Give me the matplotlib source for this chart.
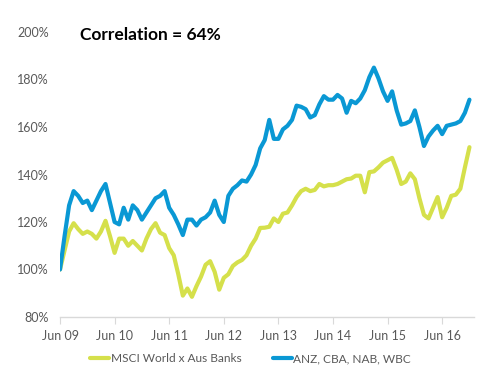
import matplotlib
matplotlib.use("Agg")
import matplotlib.pyplot as plt
import numpy as np

plt.rcParams['font.family'] = ['Lato', 'DejaVu Sans']

# Monthly data, Jun 09 .. Dec 16 (index = months since Jun 09)
msci = [100, 108, 116, 119.5, 117, 115, 116, 115, 113, 116,
        120.5, 114, 107, 113, 113, 110, 112, 110, 108, 113,
        117, 119.5, 115.5, 114.5, 109, 106, 98, 89, 92, 88.5,
        93, 97, 102, 103.5, 99, 91.5, 96.5, 98, 101.5, 103,
        104, 106, 110, 113, 117.5, 117.6, 118, 121.5, 120, 123.5,
        124, 127, 130.5, 133, 134, 133, 133.5, 136, 135, 135.5,
        135.5, 136, 137, 138, 138.3, 139.5, 139.5, 132.5, 141, 141.3,
        143, 145, 146, 147, 142, 136, 137, 140.5, 138, 130,
        123, 121.5, 126, 130.5, 122, 126, 131, 131.5, 134, 143,
        151.5]
banks = [100, 114, 127, 133, 131, 128, 129, 125, 129, 133,
         136, 128, 120, 119, 126, 121, 127, 125, 121, 124,
         127, 130, 131, 133, 126, 123, 119, 114.5, 121, 121,
         118.5, 121, 122, 124, 129, 123, 120, 131, 134, 135.5,
         137.5, 137, 140, 144, 151, 154.5, 163, 155, 155, 159,
         160.5, 163, 169, 168.5, 167.5, 164, 165, 169.5, 173, 171.5,
         171.5, 173.5, 172, 166, 171, 170, 172, 175.5, 181, 185,
         180.5, 175, 171, 175, 167, 161, 161.5, 162.5, 167, 160,
         152, 156, 158.5, 160.5, 157, 160.5, 161, 161.5, 162.5, 166,
         171.5]
tick_labels = ["Jun 09", "Jun 10", "Jun 11", "Jun 12", "Jun 13", "Jun 14", "Jun 15", "Jun 16"]
series_names = ["MSCI World x Aus Banks", "ANZ, CBA, NAB, WBC"]
title_text = "Correlation = 64%"

green = "#D5E04B"
blue = "#0A98D4"
gray_text = "#595959"

fig = plt.figure(figsize=(4.96, 3.88), dpi=100)
ax = fig.add_axes([60/496, 1-317/388, (474-60)/496, (317-32)/388])

x = np.arange(len(msci))
ax.plot(x, msci, color=green, lw=3.0, solid_joinstyle='round', solid_capstyle='round', label=series_names[0])
ax.plot(x, banks, color=blue, lw=3.0, solid_joinstyle='round', solid_capstyle='round', label=series_names[1])

ax.set_xlim(0, 91)
ax.set_ylim(80, 200)
ax.set_yticks(np.arange(80, 201, 20))
ax.set_yticklabels([f"{v}%" for v in range(80, 201, 20)], color=gray_text, fontsize=9)
ax.set_xticks(np.arange(0, 8) * 12)
ax.set_xticklabels(tick_labels, color=gray_text, fontsize=9)

for s in ['top', 'right', 'left']:
    ax.spines[s].set_visible(False)
ax.spines['bottom'].set_color("#D9D9D9")
ax.spines['bottom'].set_linewidth(1)
ax.tick_params(axis='y', length=0, pad=8)
ax.tick_params(axis='x', length=5, color="#D9D9D9", direction='out', pad=4)

ax.text(80/496, 1-35/388, title_text, transform=fig.transFigure, fontsize=12.5,
        fontweight='bold', va='center', ha='left', color='black')

leg = fig.legend(loc='center', bbox_to_anchor=(0.505, 1-359/388), ncol=2, frameon=False,
                 fontsize=8.6, handlelength=1.6, handletextpad=0.15, columnspacing=2.6)
for t in leg.get_texts():
    t.set_color(gray_text)

fig.savefig("out.png", dpi=100)
